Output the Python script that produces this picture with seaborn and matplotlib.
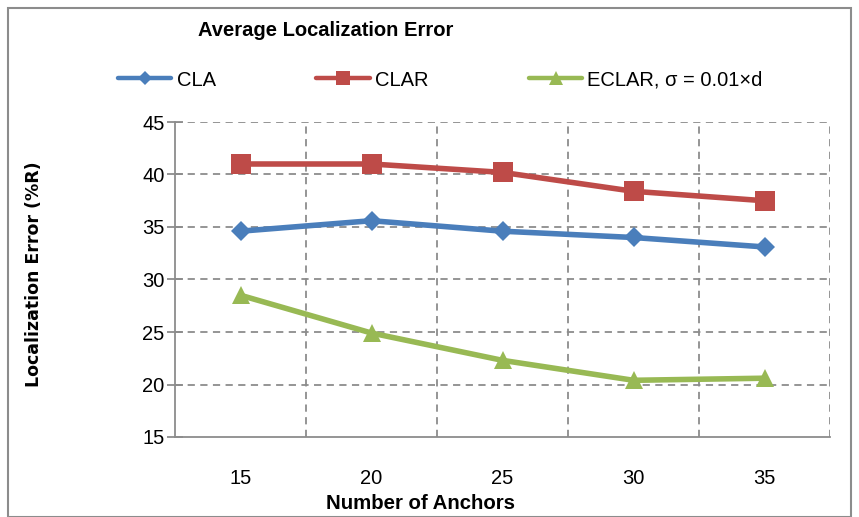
import numpy as np
import pandas as pd
import matplotlib
matplotlib.use("Agg")
import matplotlib.pyplot as plt
import seaborn as sns
from matplotlib.patches import Rectangle

# values
anchors = ["15", "20", "25", "30", "35"]
cla = [34.6, 35.6, 34.6, 34.0, 33.1]
clar = [41.0, 41.0, 40.2, 38.4, 37.5]
eclar = [28.5, 24.9, 22.3, 20.4, 20.6]
series_names = ["CLA", "CLAR", "ECLAR, σ = 0.01×d"]

sns.set_style("white")
plt.rcParams['font.family'] = ['Liberation Sans', 'DejaVu Sans']
plt.rcParams['text.color'] = 'black'
plt.rcParams['xtick.color'] = 'black'
plt.rcParams['ytick.color'] = 'black'
plt.rcParams['axes.labelcolor'] = 'black'

fig = plt.figure(figsize=(8.59, 5.17), dpi=100)
ax = fig.add_axes([175 / 859, 1 - 437 / 517, 655 / 859, 315 / 517])

styles = [("#4A7EBB", "D", 10), ("#BE4B48", "s", 14), ("#98B954", "^", 13)]
for name, vals, (col, mk, ms) in zip(series_names, [cla, clar, eclar], styles):
    df = pd.DataFrame({"anchors": anchors, "err": vals})
    sns.lineplot(data=df, x="anchors", y="err", ax=ax, color=col, marker=mk,
                 markersize=ms, markeredgewidth=0, linewidth=4.0, label=name,
                 sort=False, zorder=3)

ax.set_xlim(-0.5, 4.5)
ax.set_ylim(15, 45)
ax.set_yticks(range(15, 50, 5))
ax.set_xticks(range(5))
ax.set_xticklabels(anchors)

grid_kw = dict(color="#8c8c8c", linestyle=(0, (4, 3)), linewidth=1.3, zorder=1)
ax.grid(False)
for y in range(20, 50, 5):
    ax.axhline(y, **grid_kw)
for x in np.arange(0.5, 5, 1):
    ax.axvline(x, **grid_kw)

for s in ["top", "right"]:
    ax.spines[s].set_visible(False)
for s in ["left", "bottom"]:
    ax.spines[s].set_color("#8c8c8c")
    ax.spines[s].set_linewidth(1.3)

ax.tick_params(axis="y", direction="inout", length=11, width=1.3,
               color="#8c8c8c", labelsize=14.5, pad=2, left=True)
ax.tick_params(axis="x", length=0, labelsize=14.5, pad=23)

ax.set_xlabel("Number of Anchors", fontsize=14.7, fontweight="bold")
ax.xaxis.set_label_coords((420 - 175) / 655, (437 - 494) / 315)
ax.set_ylabel("Localization Error (%R)", fontsize=12.5, fontweight="bold",
              family="DejaVu Sans")
ax.yaxis.set_label_coords((43 - 175) / 655, (437 - 274) / 315)

fig.text(198 / 859, 1 - 30 / 517, "Average Localization Error", fontsize=14.5,
         fontweight="bold", va="center", ha="left")

leg = ax.legend(loc="center left", bbox_to_anchor=(100 / 859, 1 - 80 / 517),
                bbox_transform=fig.transFigure, ncol=3, frameon=False,
                fontsize=14.5, handlelength=2.65, columnspacing=5.0,
                handletextpad=0.25, markerscale=0.75)
for h in leg.legend_handles:
    h.set_linewidth(3.2)

fig.patches.append(Rectangle((8 / 859, 0), 1 - 16 / 859, 1 - 8 / 517,
                             transform=fig.transFigure, fill=False,
                             edgecolor="#8c8c8c", linewidth=1.5))

fig.savefig("out.png", dpi=100)
